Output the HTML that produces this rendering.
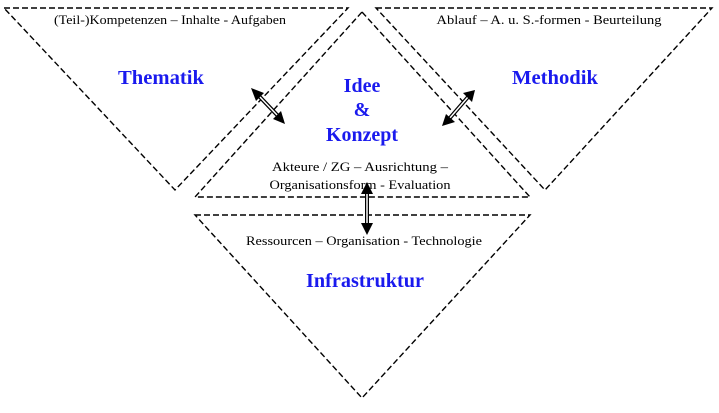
<!DOCTYPE html>
<html><head><style>
body{margin:0;background:#fff;width:719px;height:408px;overflow:hidden}
text{font-family:"Liberation Serif",serif}
</style></head><body>
<svg width="719" height="408" viewBox="0 0 719 408">
<g fill="none" stroke="#000" stroke-width="1.4" stroke-dasharray="6,3">
<polygon points="4,8 348,8 175,190"/>
<polygon points="376,8 712,8 545,190"/>
<polygon points="362,12 530,197 195,197"/>
<polygon points="195,215 530,215 362,398"/>
</g>
<g stroke="#000" stroke-width="4" fill="none">
<line x1="259" y1="96" x2="278" y2="116"/>
<line x1="468" y1="97" x2="449" y2="119"/>
<line x1="367" y1="190" x2="367" y2="228"/>
</g>
<g stroke="#fff" stroke-width="1.5" fill="none">
<line x1="259" y1="96" x2="278" y2="116"/>
<line x1="468" y1="97" x2="449" y2="119"/>
<line x1="367" y1="190" x2="367" y2="228"/>
</g>
<g fill="#000">
<polygon points="251,88 264,93 256,101"/>
<polygon points="285,124 273,119 281,111"/>
<polygon points="475,90 463,93 472,102"/>
<polygon points="442,126 446,114 455,122"/>
<polygon points="367,182 361,194 373,194"/>
<polygon points="367,235 361,223 373,223"/>
</g>
<g font-size="13" text-anchor="middle" fill="#000">
<text x="170" y="24" textLength="232" lengthAdjust="spacingAndGlyphs">(Teil-)Kompetenzen – Inhalte - Aufgaben</text>
<text x="549" y="24" textLength="225" lengthAdjust="spacingAndGlyphs">Ablauf –  A. u. S.-formen - Beurteilung</text>
<text x="360" y="171" textLength="176" lengthAdjust="spacingAndGlyphs">Akteure / ZG – Ausrichtung –</text>
<text x="360" y="189" textLength="181" lengthAdjust="spacingAndGlyphs">Organisationsform - Evaluation</text>
<text x="364" y="245" textLength="236" lengthAdjust="spacingAndGlyphs">Ressourcen – Organisation - Technologie</text>
</g>
<g font-size="20" font-weight="bold" fill="#1a1aee" text-anchor="middle">
<text x="161" y="84" textLength="86" lengthAdjust="spacingAndGlyphs">Thematik</text>
<text x="555" y="84" textLength="86" lengthAdjust="spacingAndGlyphs">Methodik</text>
<text x="362" y="92">Idee</text>
<text x="362" y="116">&amp;</text>
<text x="362" y="141" textLength="72" lengthAdjust="spacingAndGlyphs">Konzept</text>
<text x="365" y="287" textLength="118" lengthAdjust="spacingAndGlyphs">Infrastruktur</text>
</g>
</svg>
</body></html>
